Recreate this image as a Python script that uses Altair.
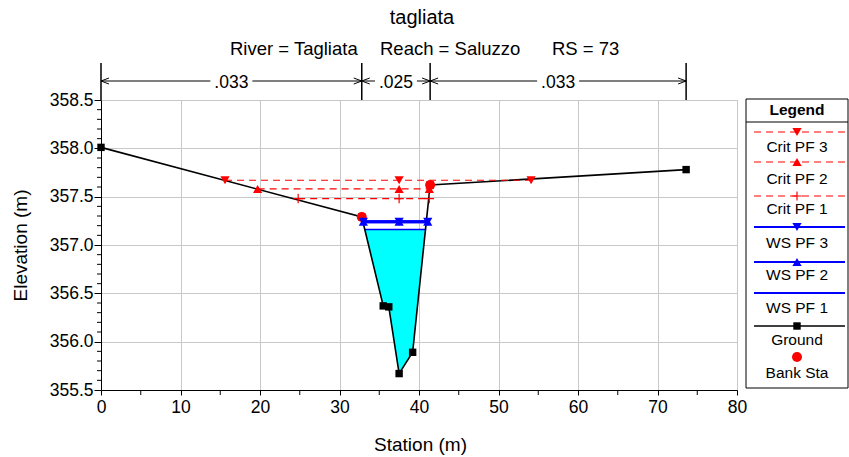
import altair as alt
import pandas as pd

# ---------------- cross-section data (station m, elevation m) ----------------
ground_sta = [0.0, 32.8, 35.5, 36.2, 37.5, 39.2, 41.4, 73.6]
ground_elev = [358.01, 357.29, 356.37, 356.36, 355.67, 355.89, 357.62, 357.78]

bank_sta = [32.8, 41.4]
bank_elev = [357.29, 357.62]

ws_pf3_sta = [33.0, 37.5, 41.1]
ws_pf3_elev = 357.24
ws_pf2_sta = [33.0, 37.5, 41.1]
ws_pf2_elev = 357.24
ws_pf1_sta = [33.1, 40.9]
ws_pf1_elev = 357.16

crit_pf3_sta = [15.6, 37.5, 54.1]
crit_pf3_elev = 357.67
crit_pf2_sta = [19.7, 37.5, 41.3]
crit_pf2_elev = 357.58
crit_pf1_sta = [24.8, 37.5, 41.3]
crit_pf1_elev = 357.48

# Manning's n zones
n_breaks = [0.0, 32.8, 41.4, 73.6]
n_values = [".033", ".025", ".033"]

# axis ticks
x_ticks = [0, 10, 20, 30, 40, 50, 60, 70, 80]
x_minor = [5, 15, 25, 35, 45, 55, 65, 75]
y_ticks = [355.5, 356.0, 356.5, 357.0, 357.5, 358.0, 358.5]
y_minor = [round(355.5 + 0.1 * i, 1) for i in range(31) if i % 5]

title_text = "tagliata"
header_parts = ["River = Tagliata", "Reach = Saluzzo", "RS = 73"]
legend_labels = ["Crit PF 3", "Crit PF 2", "Crit PF 1", "WS PF 3",
                 "WS PF 2", "WS PF 1", "Ground", "Bank Sta"]

FONT = "Liberation Sans"
W, H = 636, 290
RED, BLUE = "#ff0000", "#0000ff"
DASH = [7, 5]
PLUS = "M-1,0L1,0M0,-1L0,1"
TRI = 85


def wetted_area(sta, elev, wsel):
    """Ground points below the water surface plus the edge crossings."""
    pts = []
    for i in range(len(sta) - 1):
        x0, y0, x1, y1 = sta[i], elev[i], sta[i + 1], elev[i + 1]
        if y0 <= wsel:
            pts.append((x0, y0))
        if (y0 - wsel) * (y1 - wsel) < 0:
            t = (wsel - y0) / (y1 - y0)
            pts.append((x0 + t * (x1 - x0), wsel))
    if elev[-1] <= wsel:
        pts.append((sta[-1], elev[-1]))
    return pd.DataFrame({"sta": [p[0] for p in pts],
                         "elev": [p[1] for p in pts],
                         "top": [wsel] * len(pts)})


X = alt.X("sta:Q", title="Station (m)",
          scale=alt.Scale(domain=[0, 80], nice=False, zero=False),
          axis=alt.Axis(values=x_ticks, grid=True, gridColor="#c8c8c8",
                        domainColor="black", tickColor="black", tickSize=5,
                        labelPadding=3, labelFontSize=17.5, labelColor="black",
                        labelFont=FONT, labelFlush=False,
                        titleFont=FONT, titleFontSize=19, titleFontWeight="normal",
                        titleColor="black", titleX=319, titleY=54,
                        titleBaseline="middle"))
Y = alt.Y("elev:Q", title="Elevation (m)",
          scale=alt.Scale(domain=[355.5, 358.5], nice=False, zero=False),
          axis=alt.Axis(values=y_ticks, format=".1f", grid=True,
                        gridColor="#c8c8c8", domainColor="black",
                        tickColor="black", tickSize=7, labelPadding=1,
                        labelFontSize=17.5, labelColor="black", labelFont=FONT,
                        labelFlush=False, titleFont=FONT, titleFontSize=19,
                        titleFontWeight="normal", titleColor="black",
                        titleX=-81, titleY=145, titleAngle=270,
                        titleBaseline="middle"))

one = pd.DataFrame({"k": [0]})
layers = []

# water below WS PF 1
layers.append(alt.Chart(wetted_area(ground_sta, ground_elev, ws_pf1_elev))
              .mark_area(color="#00ffff", opacity=1)
              .encode(x=X, y=Y, y2=alt.Y2("top:Q")))

# WS PF 1 line
df_ws1 = pd.DataFrame({"sta": ws_pf1_sta, "elev": [ws_pf1_elev] * len(ws_pf1_sta)})
layers.append(alt.Chart(df_ws1).mark_line(color=BLUE, strokeWidth=1.5)
              .encode(x=X, y=Y))

# ground
df_ground = pd.DataFrame({"sta": ground_sta, "elev": ground_elev})
layers.append(alt.Chart(df_ground).mark_line(color="black", strokeWidth=1.6)
              .encode(x=X, y=Y))
layers.append(alt.Chart(df_ground)
              .mark_point(shape="square", filled=True, color="black", size=55, opacity=1)
              .encode(x=X, y=Y))

# critical depth lines
for stas, el, shape, filled in [
        (crit_pf1_sta, crit_pf1_elev, PLUS, False),
        (crit_pf2_sta, crit_pf2_elev, "triangle-up", True),
        (crit_pf3_sta, crit_pf3_elev, "triangle-down", True)]:
    df = pd.DataFrame({"sta": stas, "elev": [el] * len(stas)})
    layers.append(alt.Chart(df).mark_line(color=RED, strokeWidth=1.2, strokeDash=DASH)
                  .encode(x=X, y=Y))
    layers.append(alt.Chart(df)
                  .mark_point(shape=shape, filled=filled, color=RED,
                              size=TRI if filled else 90, strokeWidth=1.2, opacity=1)
                  .encode(x=X, y=Y))

# bank stations
df_bank = pd.DataFrame({"sta": bank_sta, "elev": bank_elev})
layers.append(alt.Chart(df_bank)
              .mark_point(shape="circle", filled=True, color=RED, size=100, opacity=1)
              .encode(x=X, y=Y))

# WS PF 2 / PF 3
for stas, el, shape in [(ws_pf2_sta, ws_pf2_elev, "triangle-up"),
                        (ws_pf3_sta, ws_pf3_elev, "triangle-down")]:
    df = pd.DataFrame({"sta": stas, "elev": [el] * len(stas)})
    layers.append(alt.Chart(df).mark_line(color=BLUE, strokeWidth=3)
                  .encode(x=X, y=Y))
    layers.append(alt.Chart(df)
                  .mark_point(shape=shape, filled=True, color=BLUE, size=TRI, opacity=1)
                  .encode(x=X, y=Y))

# minor ticks
layers.append(alt.Chart(pd.DataFrame({"elev": y_minor}))
              .mark_rule(color="black", strokeWidth=1)
              .encode(y=Y, x=alt.value(-4), x2=alt.value(0)))
layers.append(alt.Chart(pd.DataFrame({"sta": x_minor}))
              .mark_rule(color="black", strokeWidth=1)
              .encode(x=X, y=alt.value(H), y2=alt.value(H + 5)))

# Manning's n bar above the plot
layers.append(alt.Chart(pd.DataFrame({"sta": n_breaks}))
              .mark_rule(color="black", strokeWidth=1.5)
              .encode(x=X, y=alt.value(-37), y2=alt.value(0)))
n_left = pd.Series(n_breaks[:-1])
n_right = pd.Series(n_breaks[1:])
n_mid = (n_left + n_right) / 2
ARROW_Y = -19
# left half of each zone arrow: zone start -> label
layers.append(alt.Chart(pd.DataFrame({"sta": n_left, "end": n_mid}))
              .mark_rule(color="black", strokeWidth=1, x2Offset=-21)
              .encode(x=X, x2=alt.X2("end:Q"), y=alt.value(ARROW_Y)))
# right half: label -> zone end
layers.append(alt.Chart(pd.DataFrame({"sta": n_mid, "end": n_right}))
              .mark_rule(color="black", strokeWidth=1, xOffset=21)
              .encode(x=X, x2=alt.X2("end:Q"), y=alt.value(ARROW_Y)))
layers.append(alt.Chart(pd.DataFrame({"sta": n_left}))
              .mark_point(shape="M1,-0.75L-1,0L1,0.75", filled=False, color="black",
                          size=64, strokeWidth=1, xOffset=4, opacity=1)
              .encode(x=X, y=alt.value(ARROW_Y)))
layers.append(alt.Chart(pd.DataFrame({"sta": n_right}))
              .mark_point(shape="M-1,-0.75L1,0L-1,0.75", filled=False, color="black",
                          size=64, strokeWidth=1, xOffset=-4, opacity=1)
              .encode(x=X, y=alt.value(ARROW_Y)))
layers.append(alt.Chart(pd.DataFrame({"sta": n_mid, "n": n_values}))
              .mark_text(font=FONT, fontSize=17.5, color="black", baseline="alphabetic")
              .encode(x=X, y=alt.value(-12.5), text="n:N"))

# heading
layers.append(alt.Chart(one)
              .mark_text(font=FONT, fontSize=20, color="black", baseline="alphabetic")
              .encode(x=alt.value(321), y=alt.value(-76), text=alt.value(title_text)))
for txt, px in zip(header_parts, [129, 279, 451]):
    layers.append(alt.Chart(one)
                  .mark_text(font=FONT, fontSize=18.5, color="black",
                             baseline="alphabetic", align="left")
                  .encode(x=alt.value(px), y=alt.value(-45), text=alt.value(txt)))

# legend panel
LX0, LX1, LCX = 645, 747, 696
layers.append(alt.Chart(one).mark_rect(fill="white", stroke="black", strokeWidth=1)
              .encode(x=alt.value(LX0), x2=alt.value(LX1),
                      y=alt.value(-1), y2=alt.value(288)))
layers.append(alt.Chart(one).mark_rule(color="black", strokeWidth=1)
              .encode(x=alt.value(LX0), x2=alt.value(LX1), y=alt.value(22)))
layers.append(alt.Chart(one)
              .mark_text(font=FONT, fontSize=15.5, fontWeight="bold", color="black",
                         baseline="middle")
              .encode(x=alt.value(LCX), y=alt.value(10), text=alt.value("Legend")))

leg_line_y = [32, 62, 96, 127, 162, 193, 226, 257]
leg_text_y = [47, 79, 109, 143, 175, 208, 240, 273]
leg_style = [
    (RED, DASH, 1.2, "triangle-down", True),
    (RED, DASH, 1.2, "triangle-up", True),
    (RED, DASH, 1.2, PLUS, False),
    (BLUE, None, 2, "triangle-down", True),
    (BLUE, None, 2, "triangle-up", True),
    (BLUE, None, 2, None, True),
    ("black", None, 1.6, "square", True),
    (None, None, 0, "circle", True),
]
for label, ly, ty, (col, dash, sw, shape, filled) in zip(
        legend_labels, leg_line_y, leg_text_y, leg_style):
    if col is not None:
        kw = dict(color=col, strokeWidth=sw)
        if dash:
            kw["strokeDash"] = dash
        layers.append(alt.Chart(one).mark_rule(**kw)
                      .encode(x=alt.value(653), x2=alt.value(744), y=alt.value(ly)))
    if shape is not None:
        mcol = col if col is not None else RED
        size = 100 if shape == "circle" else (55 if shape == "square" else TRI)
        layers.append(alt.Chart(one)
                      .mark_point(shape=shape, filled=filled, color=mcol, size=size,
                                  strokeWidth=1.2, opacity=1)
                      .encode(x=alt.value(LCX), y=alt.value(ly)))
    layers.append(alt.Chart(one)
                  .mark_text(font=FONT, fontSize=15.5, color="black", baseline="middle")
                  .encode(x=alt.value(LCX), y=alt.value(ty), text=alt.value(label)))

chart = (alt.layer(*layers)
         .properties(width=W, height=H,
                     autosize=alt.AutoSizeParams(type="none"),
                     padding={"left": 101, "top": 100, "right": 112, "bottom": 67},
                     background="white")
         .configure(font=FONT)
         .configure_view(stroke="#c8c8c8"))

chart.save("out.html", embed_options={"renderer": "svg", "actions": False})
